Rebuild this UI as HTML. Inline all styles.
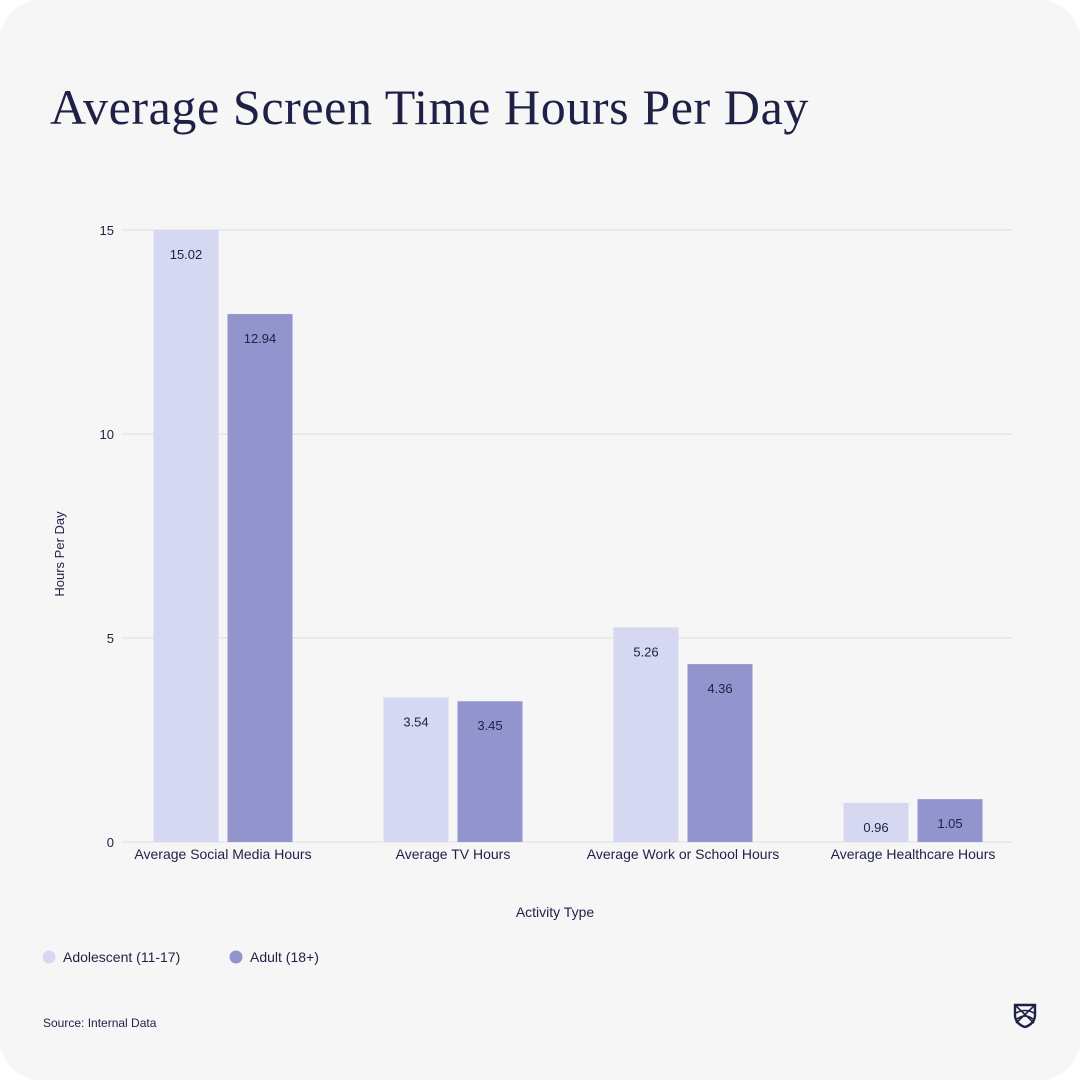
<!DOCTYPE html>
<html><head><meta charset="utf-8">
<style>
html,body{margin:0;padding:0;background:#ffffff;}
#card{position:absolute;left:0;top:0;width:1080px;height:1080px;border-radius:40px;background:#f6f6f6;overflow:hidden;}
#title{position:absolute;left:50px;top:78px;font-family:"Liberation Serif",serif;font-size:50px;color:#1e2145;margin:0;font-weight:normal;letter-spacing:0.6px;}
svg{position:absolute;left:0;top:0;}
text{font-family:"Liberation Sans",sans-serif;fill:#1e2145;}
</style></head>
<body>
<div id="card">
<h1 id="title">Average Screen Time Hours Per Day</h1>
<svg id="chart" width="1080" height="1080"></svg>
</div>
<script>
const categories = ["Average Social Media Hours","Average TV Hours","Average Work or School Hours","Average Healthcare Hours"];
const adolescent = [15.02, 3.54, 5.26, 0.96];
const adult = [12.94, 3.45, 4.36, 1.05];
const seriesNames = ["Adolescent (11-17)","Adult (18+)"];
const ticks = [0,5,10,15];

const NS="http://www.w3.org/2000/svg";
const svg=document.getElementById('chart');
const x0=108, x1=1028, yTop=230, yBot=842, yMax=15;
const colors=["#d6d7f1","#9194cd"];
function y(v){return yBot-(Math.min(v,yMax)/yMax)*(yBot-yTop);}
const band=(x1-x0)/categories.length;
function xc(i){return x0+band*(i+0.5);}
function mk(tag,attrs,txt){const e=document.createElementNS(NS,tag);for(const k in attrs)e.setAttribute(k,attrs[k]);if(txt!==undefined)e.textContent=txt;svg.appendChild(e);return e;}

ticks.forEach(t=>{
  if(t>0){const g=mk('line',{x1:122,x2:1013,y1:y(t),y2:y(t),stroke:'#e2e2e2','stroke-width':1.2});
  
  }
  const l=mk('text',{x:114,y:y(t)+5,'text-anchor':'end','font-size':13},String(t));
  
  
});
const base=mk('line',{x1:122,x2:1013,y1:yBot,y2:yBot,stroke:'#e2e2e2','stroke-width':1.2});



const bw=65, gap=9;
[adolescent,adult].forEach((arr,s)=>{
  arr.forEach((v,i)=>{
    const bx=xc(i)-gap/2-bw+s*(bw+gap);
    const r=mk('rect',{x:bx,y:y(v),width:bw,height:yBot-y(v),fill:colors[s]});
    
    
    const t=mk('text',{x:bx+bw/2,y:y(v)+29,'text-anchor':'middle','font-size':13},v.toFixed(2));
    
    
  });
});
categories.forEach((c,i)=>{
  const t=mk('text',{x:xc(i),y:859,'text-anchor':'middle','font-size':14},c);
  
  
});
const xt=mk('text',{x:555,y:917,'text-anchor':'middle','font-size':14},'Activity Type');


const yt=mk('text',{x:0,y:0,'text-anchor':'middle','font-size':13,transform:'translate(64,554) rotate(-90)'},'Hours Per Day');



const lx=[49,236];
seriesNames.forEach((n,s)=>{
  const c=mk('circle',{cx:lx[s],cy:957,r:6.5,fill:colors[s]});
  
  
  const t=mk('text',{x:lx[s]+14,y:962,'font-size':14},n);
  
  
});
const src=mk('text',{x:43,y:1027,'font-size':12},'Source: Internal Data');



const g=document.createElementNS(NS,'g');


g.setAttribute('transform','translate(1014,1004)');
g.innerHTML='<path d="M1 1 H21 V11 C21 18 15 22 11 23 C7 22 1 18 1 11 Z" fill="none" stroke="#1e2145" stroke-width="2.4"/><path d="M2 2 L20 19 M20 2 L2 19 M2 9 Q11 4 20 9 M3 15 Q11 9 19 15" fill="none" stroke="#1e2145" stroke-width="1.6"/>';
svg.appendChild(g);
</script>
</body></html>
